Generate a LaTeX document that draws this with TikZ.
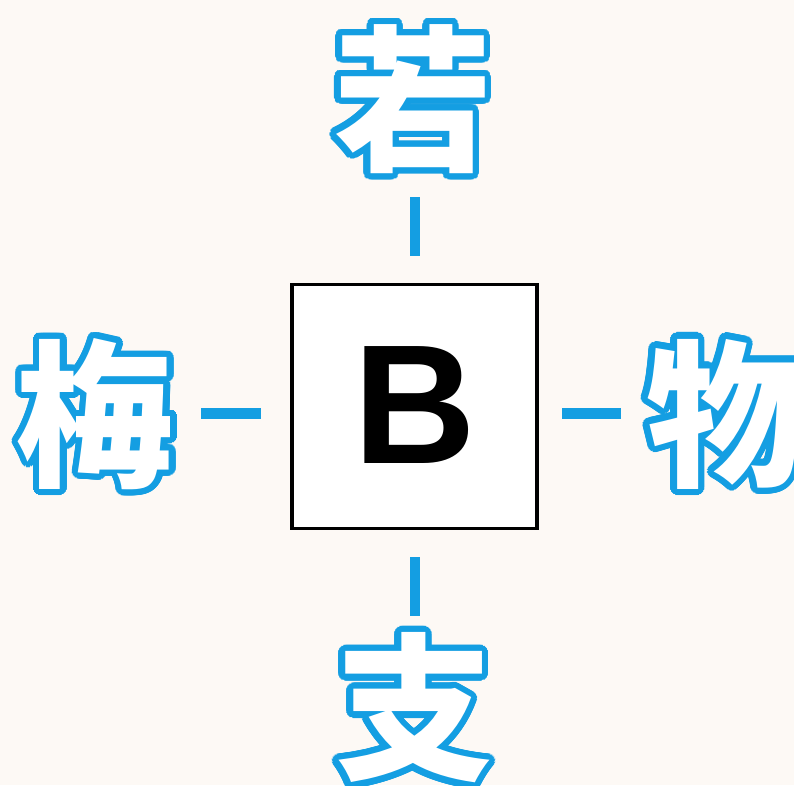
\documentclass[tikz,border=0pt]{standalone}
\usepackage{fontspec}
\setmainfont{Liberation Sans}
\newfontfamily\cjk{Noto Sans CJK JP}
\definecolor{bgc}{HTML}{FDF9F5}
\definecolor{kblue}{HTML}{149EE2}
\newcommand{\outlined}[1]{%
  \foreach \a in {0,12,...,348}{%
    \node[kanji, text=kblue] at ([shift={(\a:6.3)}]0,0) {#1};}%
  \node[kanji, text=white] at (0,0) {#1};}
\tikzset{
  kanji/.style={inner sep=0pt, font=\cjk\bfseries\fontsize{158}{158}\selectfont},
  link/.style={draw=kblue, line width=10.5pt},
  cbox/.style={draw=black, line width=3.2pt, fill=white, minimum width=245pt, minimum height=244pt, inner sep=0pt, font=\bfseries\fontsize{170}{170}\selectfont}
}
\begin{document}
\begin{tikzpicture}[x=1pt,y=-1pt]
\fill[bgc] (0,0) rectangle (794,785);
\useasboundingbox (0,0) rectangle (794,785);
\node[cbox] (b) at (414.5,406.5) {\raisebox{2pt}{B}};
\begin{scope}[shift={(413,99)}] \outlined{若} \end{scope}
\begin{scope}[shift={(95,414)}] \outlined{梅} \end{scope}
\begin{scope}[shift={(725,414)}] \outlined{物} \end{scope}
\begin{scope}[shift={(414,708)}] \outlined{支} \end{scope}
\coordinate (t1) at (415,197); \coordinate (t2) at (415,256);
\coordinate (d1) at (415,557); \coordinate (d2) at (415,616);
\coordinate (l1) at (201,413.5); \coordinate (l2) at (261,413.5);
\coordinate (r1) at (562,413.5); \coordinate (r2) at (621,413.5);
\draw[link] (t1) -- (t2);
\draw[link] (d1) -- (d2);
\draw[link] (l1) -- (l2);
\draw[link] (r1) -- (r2);
\end{tikzpicture}
\end{document}
